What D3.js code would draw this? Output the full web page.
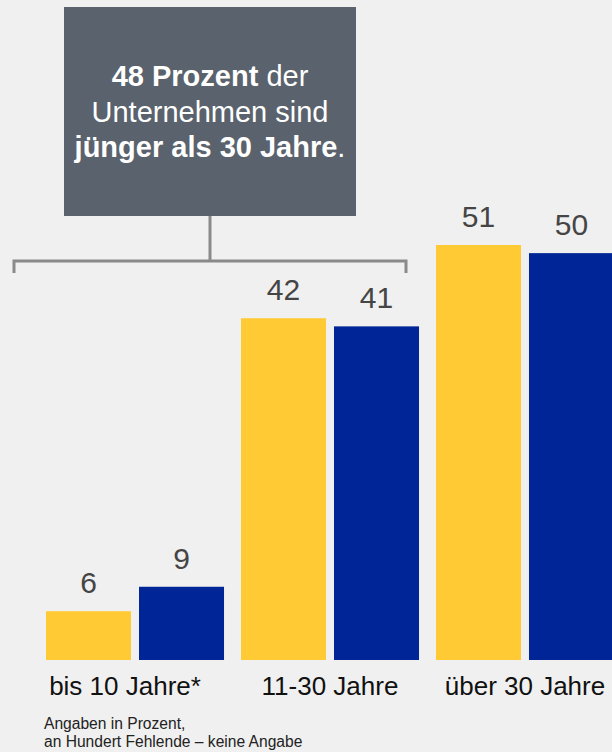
<!DOCTYPE html>
<html><head><meta charset="utf-8">
<script src="https://cdn.jsdelivr.net/npm/d3@7"></script>
<style>html,body{margin:0;padding:0;background:#f0f0f0;}svg{display:block;}</style>
</head><body>
<svg id="c" width="612" height="752"></svg>
<script>
const categories = ["bis 10 Jahre*", "11-30 Jahre", "über 30 Jahre"];
const seriesNames = ["A", "B"];
const seriesA = [6, 42, 51];
const seriesB = [9, 41, 50];
const footnote = ["Angaben in Prozent,", "an Hundert Fehlende – keine Angabe"];

const svg = d3.select("#c");
const font = "'Liberation Sans', Arial, sans-serif";
const colors = ["#ffca33", "#002596"];
const baseline = 660;

const x0 = d3.scaleBand().domain(categories).range([46, 614]).paddingInner(0.087).paddingOuter(0);
const x1 = d3.scaleBand().domain(seriesNames).range([0, x0.bandwidth()]).paddingInner(0.086);
const y = d3.scaleLinear().domain([0, 51]).range([baseline, 245]);

const data = categories.map((c, i) => ({cat: c, vals: [seriesA[i], seriesB[i]]}));

const g = svg.selectAll("g.grp").data(data).enter().append("g")
  .attr("transform", d => `translate(${x0(d.cat)},0)`);

g.selectAll("rect").data(d => d.vals.map((v, j) => ({v, s: seriesNames[j], j}))).enter()
  .append("rect")
  .attr("x", d => x1(d.s)).attr("width", x1.bandwidth())
  .attr("y", d => y(d.v)).attr("height", d => baseline - y(d.v))
  .attr("fill", d => colors[d.j]);

g.selectAll("text.val").data(d => d.vals.map((v, j) => ({v, s: seriesNames[j]}))).enter()
  .append("text")
  .attr("x", d => x1(d.s) + x1.bandwidth() / 2)
  .attr("y", d => y(d.v) - 18)
  .attr("text-anchor", "middle")
  .attr("font-family", font).attr("font-size", 30)
  .attr("fill", "#454545")
  .text(d => d.v);

svg.selectAll("text.cat").data(categories).enter().append("text")
  .attr("x", (d, i) => x0(d) + x0.bandwidth() / 2 - (i === 0 ? 10 : 0))
  .attr("y", 695)
  .attr("text-anchor", "middle")
  .attr("font-family", font).attr("font-size", 26)
  .attr("fill", "#111")
  .text(d => d);

// callout box
svg.append("rect").attr("x", 64).attr("y", 7).attr("width", 292).attr("height", 209).attr("fill", "#5a636d");
const tx = svg.append("text").attr("text-anchor", "middle").attr("font-family", font).attr("font-size", 29).attr("fill", "#fff");
const l1 = tx.append("tspan").attr("x", 210).attr("y", 86);
l1.append("tspan").attr("font-weight", "bold").text("48 Prozent");
l1.append("tspan").text(" der");
tx.append("tspan").attr("x", 210).attr("y", 122).text("Unternehmen sind");
const l3 = tx.append("tspan").attr("x", 210).attr("y", 157);
l3.append("tspan").attr("font-weight", "bold").text("jünger als 30 Jahre");
l3.append("tspan").text(".");

// bracket
svg.append("path")
  .attr("d", "M210,216 V261 M14,273 V261 H406 V273")
  .attr("fill", "none").attr("stroke", "#8a8a8a").attr("stroke-width", 3);

svg.selectAll("text.fn").data(footnote).enter().append("text")
  .attr("x", 44).attr("y", (d, i) => 729 + i * 18)
  .attr("font-family", font).attr("font-size", 15.6)
  .attr("fill", "#222")
  .text(d => d);
</script>
</body></html>
